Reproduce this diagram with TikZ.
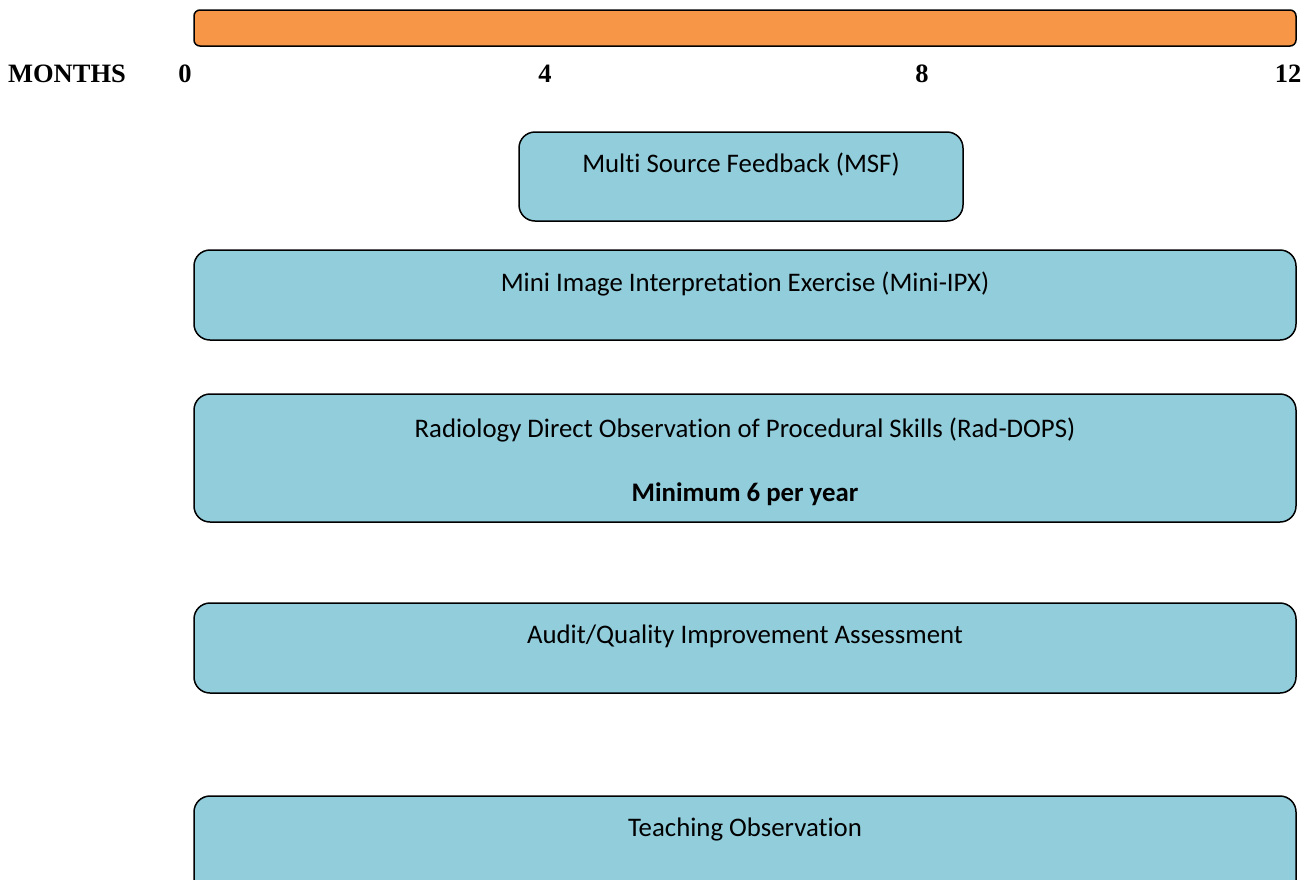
\documentclass[tikz,border=0pt]{standalone}
\usepackage{fontspec}
\setmainfont{Liberation Serif}
\newfontfamily\boxfont[Ligatures=NoCommon]{Carlito}
\definecolor{barorange}{HTML}{F79646}
\definecolor{boxblue}{HTML}{92CDDC}
\begin{document}
\begin{tikzpicture}[x=1pt,y=-1pt,
  bar/.style={draw=black, line width=1.5pt, fill=barorange, rounded corners=6pt},
  abox/.style={draw=black, line width=1.5pt, fill=boxblue, rounded corners=16pt},
  month/.style={font=\fontsize{26.5}{30}\selectfont\bfseries, inner sep=0pt, anchor=base},
  btext/.style={font=\boxfont\fontsize{26.8}{30}\selectfont, inner sep=0pt, anchor=center}
]
\useasboundingbox (0,0) rectangle (1312,879);
\clip (0,0) rectangle (1312,879);
\draw[bar] (194,10) rectangle (1296,46);
\node[month] (mlab) at (67,82) {MONTHS};
\node[month] (m0) at (185,82) {0};
\node[month] (m4) at (545,82) {4};
\node[month] (m8) at (922,82) {8};
\node[month] (m12) at (1288,82) {12};

\draw[abox] (519,132) rectangle (963,221);
\node[btext] (msf) at (741,165) {Multi Source Feedback (MSF)};

\draw[abox] (194,250) rectangle (1296,340);
\node[btext] (ipx) at (745,284) {Mini Image Interpretation Exercise (Mini-IPX)};

\draw[abox] (194,394) rectangle (1296,522);
\node[btext] (dops) at (745,430) {Radiology Direct Observation of Procedural Skills (Rad-DOPS)};
\node[btext, font=\boxfont\fontsize{26.8}{30}\selectfont\bfseries] (dopsmin) at (745,494) {Minimum 6 per year};

\draw[abox] (194,603) rectangle (1296,693);
\node[btext] (audit) at (745,636) {Audit/Quality Improvement Assessment};

\draw[abox] (194,796) rectangle (1296,900);
\node[btext] (teach) at (745,829) {Teaching Observation};
\end{tikzpicture}
\end{document}
